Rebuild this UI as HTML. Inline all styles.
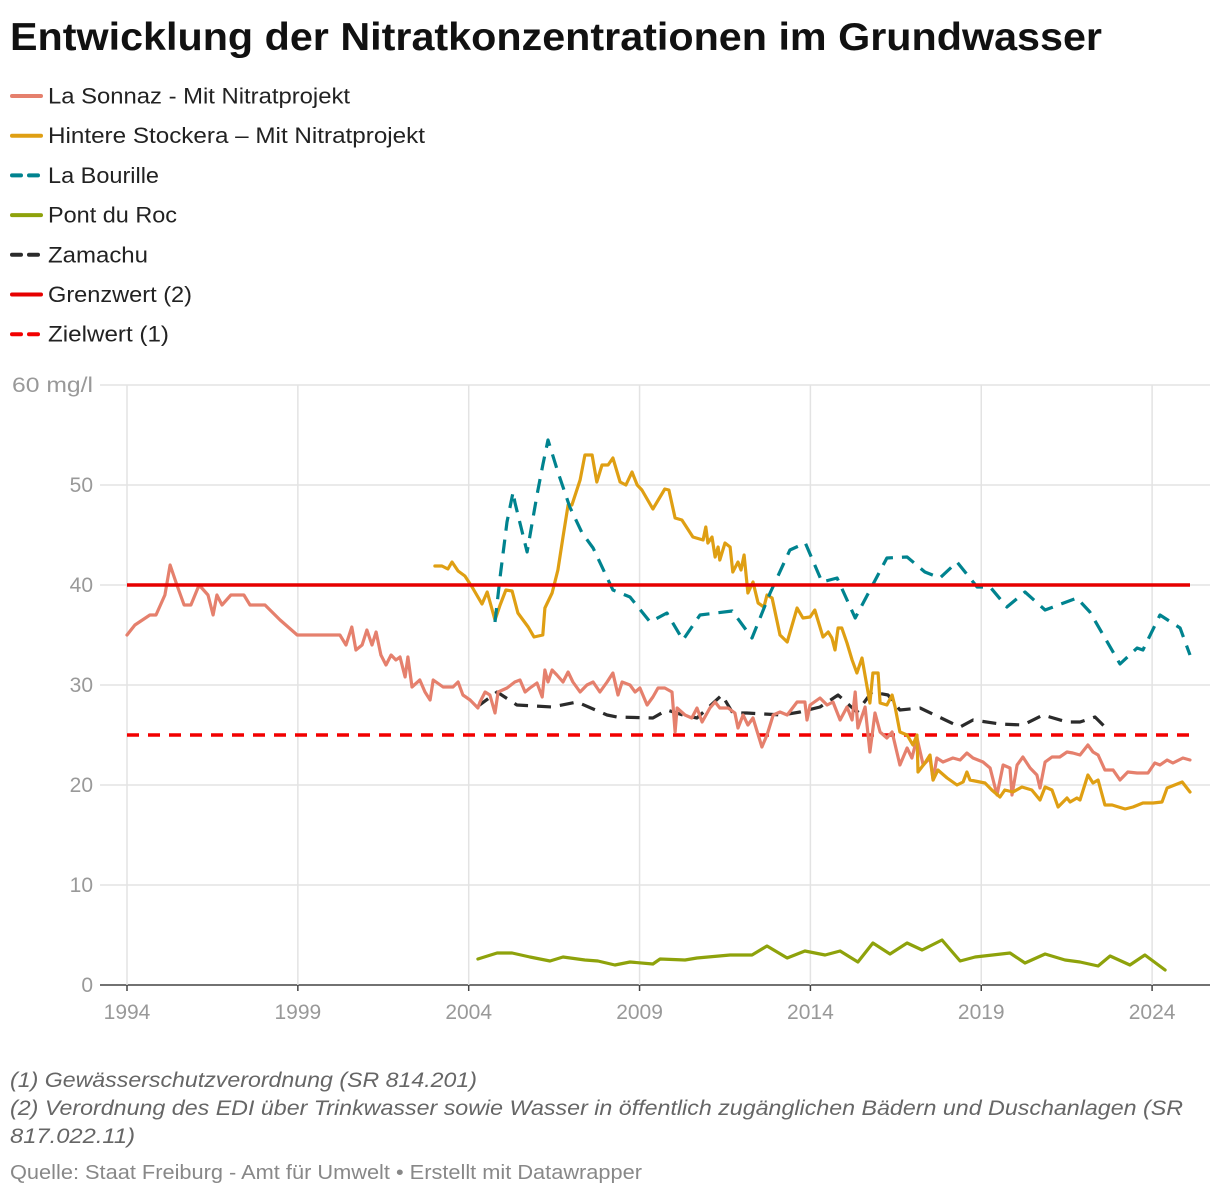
<!DOCTYPE html>
<html><head><meta charset="utf-8">
<style>
body{margin:0;background:#fff;width:1220px;height:1196px;overflow:hidden;font-family:"Liberation Sans",sans-serif}
svg text{font-family:"Liberation Sans",sans-serif}
</style></head>
<body>
<svg id="c" width="1220" height="1196" viewBox="0 0 1220 1196">
<text x="10" y="50" font-size="39" font-weight="bold" fill="#111" textLength="1092" lengthAdjust="spacingAndGlyphs">Entwicklung der Nitratkonzentrationen im Grundwasser</text>
<g id="legend"></g>
<g id="grid"></g>
<g id="series"></g>
<text x="10" y="1087" font-size="21" font-style="italic" fill="#666" textLength="467" lengthAdjust="spacingAndGlyphs">(1) Gewässerschutzverordnung (SR 814.201)</text>
<text x="10" y="1115" font-size="21" font-style="italic" fill="#666" textLength="1173" lengthAdjust="spacingAndGlyphs">(2) Verordnung des EDI über Trinkwasser sowie Wasser in öffentlich zugänglichen Bädern und Duschanlagen (SR</text>
<text x="10" y="1143" font-size="21" font-style="italic" fill="#666" textLength="125" lengthAdjust="spacingAndGlyphs">817.022.11)</text>
<text x="10" y="1179" font-size="20" fill="#888" textLength="632" lengthAdjust="spacingAndGlyphs">Quelle: Staat Freiburg - Amt für Umwelt • Erstellt mit Datawrapper</text>
</svg>
<script>
const xTicks=[1994,1999,2004,2009,2014,2019,2024];
const yTicks=[0,10,20,30,40,50,60];
const sonnazYears=[1994,1994.23,1994.67,1994.85,1995.11,1995.26,1995.46,1995.67,1995.87,1996.11,1996.37,1996.52,1996.63,1996.78,1997.04,1997.42,1997.6,1998.04,1998.48,1998.98,2000.23,2000.41,2000.58,2000.7,2000.88,2001.02,2001.17,2001.29,2001.43,2001.58,2001.73,2001.87,2001.99,2002.14,2002.22,2002.34,2002.57,2002.72,2002.87,2002.96,2003.25,2003.54,2003.69,2003.83,2004.04,2004.27,2004.33,2004.48,2004.62,2004.77,2004.86,2005.12,2005.35,2005.5,2005.65,2005.79,2006,2006.15,2006.23,2006.32,2006.44,2006.58,2006.76,2006.91,2007.05,2007.26,2007.46,2007.64,2007.84,2008.05,2008.22,2008.37,2008.49,2008.72,2008.87,2009.01,2009.22,2009.39,2009.54,2009.74,2009.95,2010.04,2010.1,2010.33,2010.53,2010.68,2010.83,2011.06,2011.21,2011.35,2011.59,2011.79,2011.88,2012.03,2012.17,2012.32,2012.58,2012.73,2012.91,2013.11,2013.32,2013.61,2013.84,2013.9,2013.99,2014.28,2014.49,2014.66,2014.87,2015.07,2015.22,2015.31,2015.39,2015.6,2015.74,2015.89,2016.04,2016.24,2016.39,2016.62,2016.83,2016.97,2017.12,2017.3,2017.5,2017.59,2017.7,2017.88,2018.17,2018.38,2018.58,2018.76,2019.05,2019.26,2019.46,2019.64,2019.84,2019.9,2020.05,2020.22,2020.43,2020.63,2020.72,2020.87,2021.07,2021.3,2021.51,2021.68,2021.89,2022.12,2022.27,2022.42,2022.62,2022.86,2023.06,2023.29,2023.56,2023.88,2024.08,2024.23,2024.44,2024.61,2024.9,2025.11];
const sonnazValues=[35,36,37,37,39,42,40,38,38,40,39,37,39,38,39,39,38,38,36.5,35,35,34,35.8,33.5,34,35.5,34,35.3,33,32,33,32.5,32.8,30.8,32.8,29.8,30.5,29.3,28.5,30.5,29.8,29.8,30.3,29,28.5,27.7,28.3,29.3,29,27.2,29.3,29.7,30.3,30.5,29.3,29.7,30.2,28.8,31.5,30.3,31.5,31,30.3,31.3,30.3,29.3,30,30.3,29.3,30.3,31.2,29,30.3,30,29.3,29.7,28,28.8,29.7,29.7,29.3,25.3,27.7,27,26.7,27.7,26.3,27.7,28.3,27.7,27.7,27.2,25.7,27,26,26.7,23.8,25,27,27.3,27,28.3,28.3,26.5,28,28.7,28,28.3,26.5,27.8,26.5,29.3,25.7,27.8,23.3,27.2,25.3,24.7,25.3,22,23.7,22.7,24.7,22,22.7,20.5,22.7,22.3,22.7,22.5,23.2,22.7,22.3,21.7,19,22,21.7,19,22,22.8,21.7,21,19.7,22.3,22.8,22.8,23.3,23.2,23,24,23.3,23,21.5,21.5,20.5,21.3,21.2,21.2,22.2,22,22.5,22.2,22.7,22.5];
const stockeraYears=[2003.01,2003.22,2003.39,2003.51,2003.69,2003.89,2004.1,2004.39,2004.54,2004.77,2004.92,2005.09,2005.27,2005.44,2005.74,2005.91,2006.17,2006.23,2006.44,2006.61,2006.76,2006.91,2007.02,2007.26,2007.4,2007.61,2007.75,2007.9,2008.08,2008.22,2008.43,2008.6,2008.78,2008.93,2009.07,2009.39,2009.74,2009.86,2010.04,2010.24,2010.56,2010.86,2010.94,2011,2011.12,2011.21,2011.3,2011.35,2011.5,2011.65,2011.73,2011.88,2011.97,2012.06,2012.17,2012.32,2012.47,2012.64,2012.73,2012.88,2013.11,2013.32,2013.61,2013.78,2013.99,2014.13,2014.37,2014.52,2014.63,2014.72,2014.81,2014.92,2015.07,2015.22,2015.36,2015.51,2015.66,2015.74,2015.83,2015.98,2016.04,2016.24,2016.39,2016.48,2016.62,2016.83,2017,2017.12,2017.15,2017.35,2017.5,2017.59,2017.73,2018,2018.29,2018.47,2018.58,2018.67,2018.96,2019.11,2019.31,2019.55,2019.69,2019.93,2020.19,2020.48,2020.72,2020.87,2021.07,2021.25,2021.51,2021.6,2021.8,2021.89,2022.12,2022.27,2022.42,2022.62,2022.83,2023.21,2023.44,2023.73,2024.03,2024.29,2024.44,2024.88,2025.11];
const stockeraValues=[41.9,41.9,41.6,42.3,41.4,40.9,39.8,38.1,39.3,36.5,38,39.5,39.4,37.2,35.8,34.8,35,37.7,39.2,41.5,44.8,48,48,50.5,53,53,50.3,52,52,52.7,50.3,50,51.3,50,49.5,47.6,49.6,49.5,46.7,46.5,44.8,44.5,45.8,44.2,44.8,42.8,43.8,42.5,44.2,43.8,41.3,42.3,41.5,43,39.2,40.3,38.2,37.8,39,38.7,35,34.3,37.7,36.7,36.8,37.5,34.8,35.3,34.7,33.5,35.7,35.7,34.2,32.5,31.2,32.7,29.8,28.2,31.2,31.2,28.2,28,29,27.8,25.3,25,24,25,21.3,22.2,23,20.5,21.5,20.7,20,20.3,21.3,20.5,20.3,20.2,19.5,18.8,19.5,19.3,19.8,19.5,18.5,19.8,19.5,17.8,18.7,18.3,18.7,18.5,21,20.2,20.5,18,18,17.6,17.8,18.2,18.2,18.3,19.7,20.3,19.3];
const bourilleYears=[2004.77,2004.92,2005.12,2005.3,2005.35,2005.71,2006,2006.17,2006.32,2006.61,2006.96,2007.32,2007.64,2008.22,2008.72,2009.31,2009.8,2010.27,2010.77,2011.71,2012.29,2012.82,2013.4,2013.85,2014.34,2014.78,2015.31,2016.24,2016.83,2017.35,2017.79,2018.29,2018.88,2019.26,2019.75,2020.28,2020.87,2021.8,2022.18,2023.06,2023.56,2023.73,2024.23,2024.82,2025.11];
const bourilleValues=[36.3,40.8,46.3,49.3,48.3,43.3,49,52,54.5,51.3,47.8,45.2,43.7,39.5,38.8,36.3,37.2,34.5,37,37.4,34.7,39.2,43.5,44.2,40.3,40.7,36.7,42.7,42.8,41.3,40.7,42.3,39.8,39.8,37.8,39.3,37.5,38.7,37.3,32.1,33.7,33.5,37,35.7,33];
const zamachuYears=[2004.24,2004.83,2005.41,2006.44,2007.17,2008.05,2008.34,2009.39,2009.8,2010.27,2010.68,2011.41,2011.73,2012.14,2013.17,2013.7,2014.28,2014.81,2015.36,2015.8,2016.27,2016.62,2017.21,2018.38,2018.76,2019.55,2020.22,2020.81,2021.51,2021.89,2022.33,2022.71];
const zamachuValues=[27.8,29.3,28,27.8,28.3,27,26.8,26.7,27.5,27,26.7,29,27.2,27.2,27,27.3,27.8,29,27.3,29.3,29,27.5,27.7,25.8,26.5,26.1,26,27,26.3,26.3,26.8,25.5];
const rocYears=[2004.27,2004.83,2005.27,2005.79,2006.38,2006.76,2007.4,2007.78,2008.28,2008.72,2009.39,2009.6,2010.33,2010.68,2011.65,2012.29,2012.73,2013.32,2013.84,2014.43,2014.87,2015.39,2015.83,2016.33,2016.83,2017.27,2017.85,2018.38,2018.82,2019.84,2020.28,2020.87,2021.45,2021.89,2022.42,2022.77,2023.35,2023.79,2024.38];
const rocValues=[2.6,3.2,3.2,2.8,2.4,2.8,2.5,2.4,2,2.3,2.1,2.6,2.5,2.7,3,3,3.9,2.7,3.4,3,3.4,2.3,4.2,3.1,4.2,3.5,4.5,2.4,2.8,3.2,2.2,3.1,2.5,2.3,1.9,2.9,2,3,1.5];
const grenzwert=40, zielwert=25;

const NS='http://www.w3.org/2000/svg';
const X=y=>127+(y-1994)*34.17;
const Y=v=>985-v*10;
function mk(tag,attrs,parent){const e=document.createElementNS(NS,tag);for(const k in attrs)e.setAttribute(k,attrs[k]);parent.appendChild(e);return e;}
const grid=document.getElementById('grid');
yTicks.forEach(t=>{
  const l=mk('line',{x1:100,x2:1210,y1:Y(t),y2:Y(t),stroke:t===0?'#444':'#e3e3e3','stroke-width':1.5},grid);
  
  
  const tx=mk('text',{x:t===60?12:93,y:Y(t)+7,'font-size':21,fill:'#999','text-anchor':t===60?'start':'end'},grid);
  if(t===60){tx.setAttribute('textLength','81');tx.setAttribute('lengthAdjust','spacingAndGlyphs');}
  tx.textContent=t===60?'60 mg/l':String(t);
  
  
});
xTicks.forEach(t=>{
  const l=mk('line',{x1:X(t),x2:X(t),y1:385,y2:985,stroke:'#e3e3e3','stroke-width':1.5},grid);
  
  
  const tk=mk('line',{x1:X(t),x2:X(t),y1:985,y2:991,stroke:'#444','stroke-width':1.5},grid);
  
  
  const tx=mk('text',{x:X(t),y:1019,'font-size':21,fill:'#999','text-anchor':'middle'},grid);
  tx.textContent=String(t);
  
  
});
const ser=document.getElementById('series');
function hline(v,color,dash,name){
  const l=mk('line',{x1:X(1994),x2:1190,y1:Y(v),y2:Y(v),stroke:color,'stroke-width':3.5},ser);
  if(dash)l.setAttribute('stroke-dasharray',dash);
  
  
}
function poly(ys,vs,color,dash,name){
  const pts=ys.map((y,i)=>X(y).toFixed(1)+','+Y(vs[i]).toFixed(1)).join(' ');
  const p=mk('polyline',{points:pts,fill:'none',stroke:color,'stroke-width':3.2,'stroke-linejoin':'round','stroke-linecap':dash?'butt':'round'},ser);
  if(dash)p.setAttribute('stroke-dasharray',dash);
  
  
}
hline(zielwert,'#f20000','12 9','zielwert-line');
poly(rocYears,rocValues,'#8ea20b',null,'pont-du-roc-line');
poly(zamachuYears,zamachuValues,'#2b2b2b','14 9','zamachu-line');
poly(sonnazYears,sonnazValues,'#e5806d',null,'la-sonnaz-line');
poly(stockeraYears,stockeraValues,'#df9f13',null,'hintere-stockera-line');
poly(bourilleYears,bourilleValues,'#00838f','14 9','la-bourille-line');
hline(grenzwert,'#e60000',null,'grenzwert-line');

const legendNames=['La Sonnaz - Mit Nitratprojekt','Hintere Stockera – Mit Nitratprojekt','La Bourille','Pont du Roc','Zamachu','Grenzwert (2)','Zielwert (1)'];
const legendColors=['#e5806d','#df9f13','#00838f','#8ea20b','#2b2b2b','#e60000','#f20000'];
const legendDashed=[false,false,true,false,true,false,true];
const legendWidths=[302,377,111,129,100,144,121];
const lg=document.getElementById('legend');
legendNames.forEach((n,i)=>{
  const y=96+i*39.7;
  const g=mk('g',{},lg);
  
  
  const l=mk('line',{x1:12,x2:41,y1:y,y2:y,stroke:legendColors[i],'stroke-width':4,'stroke-linecap':'round'},g);
  if(legendDashed[i])l.setAttribute('stroke-dasharray','9 8');
  const t=mk('text',{x:48,y:y+7.5,'font-size':22,fill:'#222',textLength:legendWidths[i],lengthAdjust:'spacingAndGlyphs'},g);
  t.textContent=n;
});
</script>
</body></html>
